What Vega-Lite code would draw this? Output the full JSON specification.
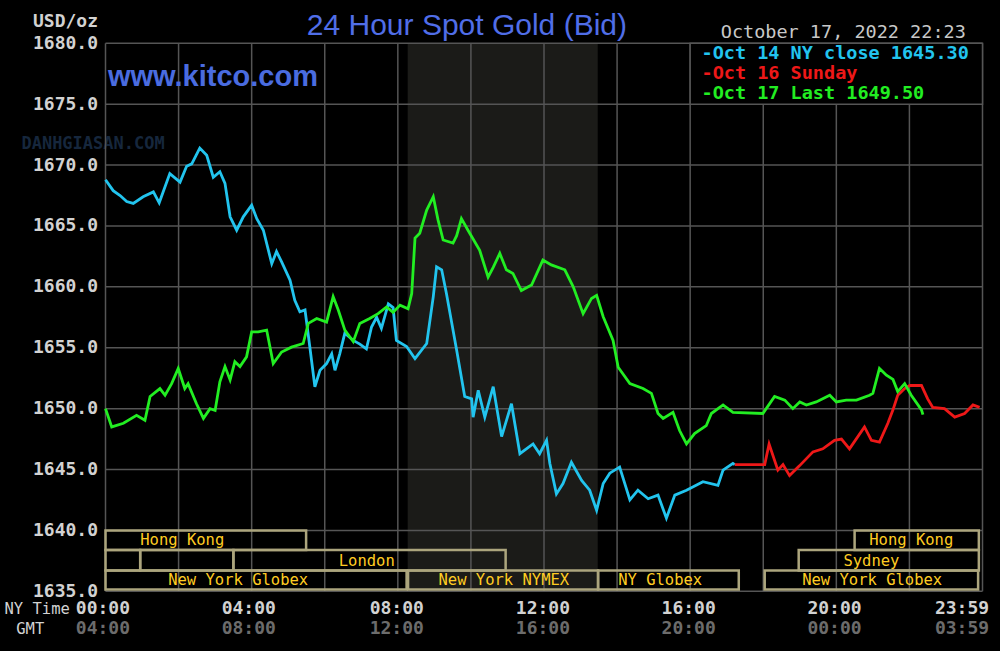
{
  "$schema": "https://vega.github.io/schema/vega-lite/v6.json",
  "width": 877,
  "height": 548,
  "autosize": {"type": "none"},
  "padding": {"left": 105.5, "top": 43.3, "right": 17.5, "bottom": 59.7},
  "background": "#000000",
  "config": {"view": {"stroke": null}},
  "datasets": {
    "prices": [
      {"s":"Oct 14","h":0,"p":1668.8},{"s":"Oct 14","h":0.21,"p":1667.9},{"s":"Oct 14","h":0.4,"p":1667.5},{"s":"Oct 14","h":0.58,"p":1667.0},{"s":"Oct 14","h":0.76,"p":1666.85},{"s":"Oct 14","h":1.03,"p":1667.4},{"s":"Oct 14","h":1.31,"p":1667.8},{"s":"Oct 14","h":1.47,"p":1666.9},{"s":"Oct 14","h":1.76,"p":1669.3},{"s":"Oct 14","h":2.04,"p":1668.6},{"s":"Oct 14","h":2.22,"p":1669.9},{"s":"Oct 14","h":2.36,"p":1670.1},{"s":"Oct 14","h":2.58,"p":1671.4},{"s":"Oct 14","h":2.77,"p":1670.8},{"s":"Oct 14","h":2.95,"p":1669.0},{"s":"Oct 14","h":3.13,"p":1669.45},{"s":"Oct 14","h":3.27,"p":1668.5},{"s":"Oct 14","h":3.41,"p":1665.75},{"s":"Oct 14","h":3.59,"p":1664.65},{"s":"Oct 14","h":3.77,"p":1665.75},{"s":"Oct 14","h":4.0,"p":1666.7},{"s":"Oct 14","h":4.14,"p":1665.6},{"s":"Oct 14","h":4.32,"p":1664.65},{"s":"Oct 14","h":4.55,"p":1661.9},{"s":"Oct 14","h":4.68,"p":1662.9},{"s":"Oct 14","h":4.82,"p":1662.05},{"s":"Oct 14","h":5.05,"p":1660.55},{"s":"Oct 14","h":5.18,"p":1658.9},{"s":"Oct 14","h":5.32,"p":1657.95},{"s":"Oct 14","h":5.46,"p":1658.1},{"s":"Oct 14","h":5.59,"p":1655.1},{"s":"Oct 14","h":5.73,"p":1651.8},{"s":"Oct 14","h":5.87,"p":1653.15},{"s":"Oct 14","h":6.05,"p":1653.7},{"s":"Oct 14","h":6.19,"p":1654.5},{"s":"Oct 14","h":6.28,"p":1653.15},{"s":"Oct 14","h":6.41,"p":1654.5},{"s":"Oct 14","h":6.55,"p":1656.2},{"s":"Oct 14","h":6.78,"p":1655.6},{"s":"Oct 14","h":6.96,"p":1655.3},{"s":"Oct 14","h":7.14,"p":1654.9},{"s":"Oct 14","h":7.28,"p":1656.7},{"s":"Oct 14","h":7.42,"p":1657.5},{"s":"Oct 14","h":7.55,"p":1656.6},{"s":"Oct 14","h":7.74,"p":1658.6},{"s":"Oct 14","h":7.87,"p":1658.3},{"s":"Oct 14","h":7.96,"p":1655.6},{"s":"Oct 14","h":8.24,"p":1655.1},{"s":"Oct 14","h":8.47,"p":1654.1},{"s":"Oct 14","h":8.79,"p":1655.35},{"s":"Oct 14","h":8.97,"p":1659.2},{"s":"Oct 14","h":9.06,"p":1661.65},{"s":"Oct 14","h":9.2,"p":1661.4},{"s":"Oct 14","h":9.33,"p":1659.45},{"s":"Oct 14","h":9.61,"p":1654.8},{"s":"Oct 14","h":9.83,"p":1651.0},{"s":"Oct 14","h":10.02,"p":1650.8},{"s":"Oct 14","h":10.06,"p":1649.3},{"s":"Oct 14","h":10.2,"p":1651.5},{"s":"Oct 14","h":10.38,"p":1649.3},{"s":"Oct 14","h":10.61,"p":1651.8},{"s":"Oct 14","h":10.84,"p":1647.7},{"s":"Oct 14","h":11.11,"p":1650.4},{"s":"Oct 14","h":11.34,"p":1646.3},{"s":"Oct 14","h":11.7,"p":1647.1},{"s":"Oct 14","h":11.88,"p":1646.3},{"s":"Oct 14","h":12.07,"p":1647.4},{"s":"Oct 14","h":12.16,"p":1645.5},{"s":"Oct 14","h":12.34,"p":1643.0},{"s":"Oct 14","h":12.52,"p":1643.85},{"s":"Oct 14","h":12.75,"p":1645.6},{"s":"Oct 14","h":13.03,"p":1644.1},{"s":"Oct 14","h":13.25,"p":1643.3},{"s":"Oct 14","h":13.44,"p":1641.65},{"s":"Oct 14","h":13.62,"p":1643.85},{"s":"Oct 14","h":13.8,"p":1644.7},{"s":"Oct 14","h":14.07,"p":1645.2},{"s":"Oct 14","h":14.35,"p":1642.5},{"s":"Oct 14","h":14.57,"p":1643.3},{"s":"Oct 14","h":14.85,"p":1642.6},{"s":"Oct 14","h":15.12,"p":1642.9},{"s":"Oct 14","h":15.35,"p":1641.0},{"s":"Oct 14","h":15.58,"p":1642.9},{"s":"Oct 14","h":15.9,"p":1643.3},{"s":"Oct 14","h":16.35,"p":1644.0},{"s":"Oct 14","h":16.76,"p":1643.7},{"s":"Oct 14","h":16.9,"p":1644.95},{"s":"Oct 14","h":17.17,"p":1645.5},{"s":"Oct 14","h":17.22,"p":1645.4},
      {"s":"Oct 16","h":17.22,"p":1645.4},{"s":"Oct 16","h":18.04,"p":1645.4},{"s":"Oct 16","h":18.16,"p":1647.1},{"s":"Oct 16","h":18.4,"p":1644.95},{"s":"Oct 16","h":18.54,"p":1645.4},{"s":"Oct 16","h":18.72,"p":1644.5},{"s":"Oct 16","h":18.99,"p":1645.3},{"s":"Oct 16","h":19.36,"p":1646.45},{"s":"Oct 16","h":19.63,"p":1646.7},{"s":"Oct 16","h":19.95,"p":1647.4},{"s":"Oct 16","h":20.14,"p":1647.5},{"s":"Oct 16","h":20.36,"p":1646.7},{"s":"Oct 16","h":20.77,"p":1648.5},{"s":"Oct 16","h":20.96,"p":1647.4},{"s":"Oct 16","h":21.18,"p":1647.25},{"s":"Oct 16","h":21.41,"p":1648.8},{"s":"Oct 16","h":21.55,"p":1649.9},{"s":"Oct 16","h":21.68,"p":1651.1},{"s":"Oct 16","h":21.87,"p":1651.65},{"s":"Oct 16","h":22.01,"p":1651.9},{"s":"Oct 16","h":22.33,"p":1651.9},{"s":"Oct 16","h":22.5,"p":1650.8},{"s":"Oct 16","h":22.64,"p":1650.1},{"s":"Oct 16","h":22.96,"p":1650.0},{"s":"Oct 16","h":23.24,"p":1649.3},{"s":"Oct 16","h":23.51,"p":1649.6},{"s":"Oct 16","h":23.74,"p":1650.3},{"s":"Oct 16","h":23.92,"p":1650.1},
      {"s":"Oct 17","h":0,"p":1650.0},{"s":"Oct 17","h":0.17,"p":1648.5},{"s":"Oct 17","h":0.49,"p":1648.8},{"s":"Oct 17","h":0.85,"p":1649.45},{"s":"Oct 17","h":1.08,"p":1649.05},{"s":"Oct 17","h":1.22,"p":1651.0},{"s":"Oct 17","h":1.49,"p":1651.65},{"s":"Oct 17","h":1.63,"p":1651.1},{"s":"Oct 17","h":1.81,"p":1652.05},{"s":"Oct 17","h":1.99,"p":1653.3},{"s":"Oct 17","h":2.17,"p":1651.65},{"s":"Oct 17","h":2.26,"p":1652.05},{"s":"Oct 17","h":2.49,"p":1650.4},{"s":"Oct 17","h":2.68,"p":1649.2},{"s":"Oct 17","h":2.86,"p":1650.0},{"s":"Oct 17","h":3.0,"p":1649.85},{"s":"Oct 17","h":3.13,"p":1652.2},{"s":"Oct 17","h":3.27,"p":1653.45},{"s":"Oct 17","h":3.41,"p":1652.35},{"s":"Oct 17","h":3.54,"p":1653.85},{"s":"Oct 17","h":3.68,"p":1653.45},{"s":"Oct 17","h":3.86,"p":1654.25},{"s":"Oct 17","h":4.0,"p":1656.3},{"s":"Oct 17","h":4.18,"p":1656.3},{"s":"Oct 17","h":4.41,"p":1656.45},{"s":"Oct 17","h":4.59,"p":1653.7},{"s":"Oct 17","h":4.82,"p":1654.65},{"s":"Oct 17","h":5.09,"p":1655.05},{"s":"Oct 17","h":5.41,"p":1655.35},{"s":"Oct 17","h":5.55,"p":1657.0},{"s":"Oct 17","h":5.78,"p":1657.4},{"s":"Oct 17","h":6.05,"p":1657.1},{"s":"Oct 17","h":6.23,"p":1659.2},{"s":"Oct 17","h":6.37,"p":1658.1},{"s":"Oct 17","h":6.55,"p":1656.45},{"s":"Oct 17","h":6.78,"p":1655.5},{"s":"Oct 17","h":6.96,"p":1657.0},{"s":"Oct 17","h":7.23,"p":1657.4},{"s":"Oct 17","h":7.46,"p":1657.8},{"s":"Oct 17","h":7.69,"p":1658.35},{"s":"Oct 17","h":7.87,"p":1657.9},{"s":"Oct 17","h":8.06,"p":1658.5},{"s":"Oct 17","h":8.28,"p":1658.2},{"s":"Oct 17","h":8.38,"p":1659.45},{"s":"Oct 17","h":8.47,"p":1664.0},{"s":"Oct 17","h":8.6,"p":1664.4},{"s":"Oct 17","h":8.79,"p":1666.3},{"s":"Oct 17","h":8.97,"p":1667.4},{"s":"Oct 17","h":9.1,"p":1665.5},{"s":"Oct 17","h":9.24,"p":1663.85},{"s":"Oct 17","h":9.51,"p":1663.6},{"s":"Oct 17","h":9.61,"p":1664.2},{"s":"Oct 17","h":9.74,"p":1665.6},{"s":"Oct 17","h":9.92,"p":1664.65},{"s":"Oct 17","h":10.24,"p":1663.0},{"s":"Oct 17","h":10.47,"p":1660.8},{"s":"Oct 17","h":10.61,"p":1661.6},{"s":"Oct 17","h":10.79,"p":1662.75},{"s":"Oct 17","h":10.97,"p":1661.4},{"s":"Oct 17","h":11.15,"p":1661.1},{"s":"Oct 17","h":11.38,"p":1659.7},{"s":"Oct 17","h":11.66,"p":1660.15},{"s":"Oct 17","h":11.97,"p":1662.2},{"s":"Oct 17","h":12.2,"p":1661.8},{"s":"Oct 17","h":12.57,"p":1661.4},{"s":"Oct 17","h":12.8,"p":1660.0},{"s":"Oct 17","h":13.07,"p":1657.8},{"s":"Oct 17","h":13.3,"p":1659.05},{"s":"Oct 17","h":13.44,"p":1659.3},{"s":"Oct 17","h":13.62,"p":1657.55},{"s":"Oct 17","h":13.89,"p":1655.6},{"s":"Oct 17","h":14.03,"p":1653.4},{"s":"Oct 17","h":14.35,"p":1652.05},{"s":"Oct 17","h":14.71,"p":1651.65},{"s":"Oct 17","h":14.94,"p":1651.25},{"s":"Oct 17","h":15.12,"p":1649.6},{"s":"Oct 17","h":15.26,"p":1649.2},{"s":"Oct 17","h":15.53,"p":1649.7},{"s":"Oct 17","h":15.71,"p":1648.2},{"s":"Oct 17","h":15.9,"p":1647.1},{"s":"Oct 17","h":16.12,"p":1647.95},{"s":"Oct 17","h":16.44,"p":1648.6},{"s":"Oct 17","h":16.58,"p":1649.6},{"s":"Oct 17","h":16.9,"p":1650.3},{"s":"Oct 17","h":17.17,"p":1649.7},{"s":"Oct 17","h":17.99,"p":1649.6},{"s":"Oct 17","h":18.31,"p":1651.0},{"s":"Oct 17","h":18.59,"p":1650.7},{"s":"Oct 17","h":18.81,"p":1650.0},{"s":"Oct 17","h":19.0,"p":1650.55},{"s":"Oct 17","h":19.18,"p":1650.3},{"s":"Oct 17","h":19.45,"p":1650.55},{"s":"Oct 17","h":19.82,"p":1651.1},{"s":"Oct 17","h":20.0,"p":1650.55},{"s":"Oct 17","h":20.27,"p":1650.7},{"s":"Oct 17","h":20.55,"p":1650.7},{"s":"Oct 17","h":20.91,"p":1651.1},{"s":"Oct 17","h":21.0,"p":1651.25},{"s":"Oct 17","h":21.18,"p":1653.3},{"s":"Oct 17","h":21.37,"p":1652.75},{"s":"Oct 17","h":21.55,"p":1652.4},{"s":"Oct 17","h":21.68,"p":1651.4},{"s":"Oct 17","h":21.87,"p":1652.05},{"s":"Oct 17","h":22.05,"p":1651.1},{"s":"Oct 17","h":22.33,"p":1649.9},{"s":"Oct 17","h":22.37,"p":1649.5}
    ],
    "vgrid": [{"h":0},{"h":2},{"h":4},{"h":6},{"h":8},{"h":10},{"h":12},{"h":14},{"h":16},{"h":18},{"h":20},{"h":22},{"h":24}],
    "hgrid": [{"p":1635},{"p":1640},{"p":1645},{"p":1650},{"p":1655},{"p":1660},{"p":1665},{"p":1670},{"p":1675},{"p":1680}],
    "sessions": [
      {"lo":1638.4,"hi":1640,"start":0,"end":5.49,"label":"Hong Kong","pos":2.1},
      {"lo":1638.4,"hi":1640,"start":20.5,"end":23.9,"label":"Hong Kong","pos":22.05},
      {"lo":1636.7,"hi":1638.4,"start":0,"end":0.95,"label":"","pos":0.5},
      {"lo":1636.7,"hi":1638.4,"start":0.95,"end":3.5,"label":"","pos":2.2},
      {"lo":1636.7,"hi":1638.4,"start":3.5,"end":10.95,"label":"London","pos":7.15},
      {"lo":1636.7,"hi":1638.4,"start":18.97,"end":23.9,"label":"Sydney","pos":20.96},
      {"lo":1635.15,"hi":1636.7,"start":0,"end":8.24,"label":"New York Globex","pos":3.63},
      {"lo":1635.15,"hi":1636.7,"start":8.28,"end":13.48,"label":"New York NYMEX","pos":10.9},
      {"lo":1635.15,"hi":1636.7,"start":13.48,"end":17.33,"label":"NY Globex","pos":15.18},
      {"lo":1635.15,"hi":1636.7,"start":18.04,"end":23.88,"label":"New York Globex","pos":20.98}
    ],
    "legendrows": [
      {"s":"Oct 14","t":"-Oct 14 NY close 1645.30","p":1679.18},
      {"s":"Oct 16","t":"-Oct 16 Sunday","p":1677.54},
      {"s":"Oct 17","t":"-Oct 17 Last 1649.50","p":1675.94}
    ],
    "xlabels": [
      {"h":-0.07,"ny":"00:00","gmt":"04:00"},
      {"h":3.92,"ny":"04:00","gmt":"08:00"},
      {"h":7.97,"ny":"08:00","gmt":"12:00"},
      {"h":11.97,"ny":"12:00","gmt":"16:00"},
      {"h":15.96,"ny":"16:00","gmt":"20:00"},
      {"h":19.95,"ny":"20:00","gmt":"00:00"},
      {"h":23.44,"ny":"23:59","gmt":"03:59"}
    ]
  },
  "layer": [
    {
      "data": {"values": [{"start": 8.27, "end": 13.47, "lo": 1635, "hi": 1680}]},
      "mark": {"type": "rect", "fill": "#1b1b18"},
      "encoding": {
        "x": {"field": "start", "type": "quantitative", "scale": {"domain": [0, 24], "nice": false}, "axis": null},
        "x2": {"field": "end"},
        "y": {"field": "lo", "type": "quantitative", "scale": {"domain": [1635, 1680], "nice": false, "zero": false},
          "axis": {"orient": "left", "values": [1635,1640,1645,1650,1655,1660,1665,1670,1675,1680], "format": ".1f", "grid": false, "domain": false, "ticks": false,
            "labelPadding": 8, "labelFont": "DejaVu Sans Mono", "labelFontWeight": "bold", "labelFontSize": 18, "labelColor": "#d2d2d2",
            "labelFlush": false, "labelOverlap": false, "labelBaseline": "middle",
            "title": "USD/oz", "titleAngle": 0, "titleAlign": "right", "titleBaseline": "middle", "titleX": -8, "titleY": -22,
            "titleFont": "DejaVu Sans Mono", "titleFontWeight": "bold", "titleFontSize": 18, "titleColor": "#d2d2d2"}},
        "y2": {"field": "hi"}
      }
    },
    {
      "data": {"values": [{"t": "DANHGIASAN.COM", "h": -0.34, "p": 1671.7}]},
      "mark": {"type": "text", "font": "DejaVu Sans Mono", "fontWeight": "bold", "fontSize": 17, "color": "#16273d", "align": "center", "baseline": "middle"},
      "encoding": {
        "x": {"field": "h", "type": "quantitative", "scale": {"domain": [0, 24], "nice": false}},
        "y": {"field": "p", "type": "quantitative", "scale": {"domain": [1635, 1680], "nice": false, "zero": false}},
        "text": {"field": "t"}
      }
    },
    {
      "data": {"name": "vgrid"},
      "mark": {"type": "rule", "color": "#555555", "strokeWidth": 1.5},
      "encoding": {"x": {"field": "h", "type": "quantitative", "scale": {"domain": [0, 24], "nice": false}}}
    },
    {
      "data": {"name": "hgrid"},
      "mark": {"type": "rule", "color": "#555555", "strokeWidth": 1.5},
      "encoding": {"y": {"field": "p", "type": "quantitative", "scale": {"domain": [1635, 1680], "nice": false, "zero": false}}}
    },
    {
      "data": {"name": "sessions"},
      "mark": {"type": "rect", "fillOpacity": 0, "fill": "#000000", "stroke": "#aca57d", "strokeWidth": 2.5},
      "encoding": {
        "x": {"field": "start", "type": "quantitative", "scale": {"domain": [0, 24], "nice": false}},
        "x2": {"field": "end"},
        "y": {"field": "lo", "type": "quantitative", "scale": {"domain": [1635, 1680], "nice": false, "zero": false}},
        "y2": {"field": "hi"}
      }
    },
    {
      "data": {"name": "sessions"},
      "mark": {"type": "text", "font": "DejaVu Sans Mono", "fontSize": 15.5, "color": "#ffcc22", "align": "center", "baseline": "middle", "dy": -9.5},
      "encoding": {
        "x": {"field": "pos", "type": "quantitative", "scale": {"domain": [0, 24], "nice": false}},
        "y": {"field": "lo", "type": "quantitative", "scale": {"domain": [1635, 1680], "nice": false, "zero": false}},
        "text": {"field": "label"}
      }
    },
    {
      "data": {"values": [{"start": 16, "end": 24, "lo": 1675, "hi": 1680}]},
      "mark": {"type": "rect", "fill": "#000000", "stroke": "#555555", "strokeWidth": 1.5},
      "encoding": {
        "x": {"field": "start", "type": "quantitative", "scale": {"domain": [0, 24], "nice": false}},
        "x2": {"field": "end"},
        "y": {"field": "lo", "type": "quantitative", "scale": {"domain": [1635, 1680], "nice": false, "zero": false}},
        "y2": {"field": "hi"}
      }
    },
    {
      "data": {"name": "legendrows"},
      "mark": {"type": "text", "font": "DejaVu Sans Mono", "fontWeight": "bold", "fontSize": 18.5, "align": "left", "baseline": "middle"},
      "encoding": {
        "x": {"datum": 16.31, "type": "quantitative", "scale": {"domain": [0, 24], "nice": false}},
        "y": {"field": "p", "type": "quantitative", "scale": {"domain": [1635, 1680], "nice": false, "zero": false}},
        "text": {"field": "t"},
        "color": {"field": "s", "type": "nominal", "scale": {"domain": ["Oct 14", "Oct 16", "Oct 17"], "range": ["#22c4ee", "#ee1818", "#22ee22"]}, "legend": null}
      }
    },
    {
      "data": {"name": "prices"},
      "mark": {"type": "line", "strokeWidth": 2.8},
      "encoding": {
        "x": {"field": "h", "type": "quantitative", "scale": {"domain": [0, 24], "nice": false}},
        "y": {"field": "p", "type": "quantitative", "scale": {"domain": [1635, 1680], "nice": false, "zero": false}},
        "color": {"field": "s", "type": "nominal", "scale": {"domain": ["Oct 14", "Oct 16", "Oct 17"], "range": ["#22c4ee", "#ee1818", "#22ee22"]}, "legend": null}
      }
    },
    {
      "data": {"name": "xlabels"},
      "mark": {"type": "text", "font": "DejaVu Sans Mono", "fontWeight": "bold", "fontSize": 18, "color": "#d2d2d2", "align": "center", "baseline": "middle"},
      "encoding": {
        "x": {"field": "h", "type": "quantitative", "scale": {"domain": [0, 24], "nice": false}},
        "y": {"datum": 1633.55, "type": "quantitative", "scale": {"domain": [1635, 1680], "nice": false, "zero": false}},
        "text": {"field": "ny"}
      }
    },
    {
      "data": {"name": "xlabels"},
      "mark": {"type": "text", "font": "DejaVu Sans Mono", "fontWeight": "bold", "fontSize": 18, "color": "#6c6c6c", "align": "center", "baseline": "middle"},
      "encoding": {
        "x": {"field": "h", "type": "quantitative", "scale": {"domain": [0, 24], "nice": false}},
        "y": {"datum": 1631.9, "type": "quantitative", "scale": {"domain": [1635, 1680], "nice": false, "zero": false}},
        "text": {"field": "gmt"}
      }
    },
    {
      "data": {"values": [{"t": "NY Time", "h": -1.87, "p": 1633.55}, {"t": "GMT", "h": -2.06, "p": 1631.9}]},
      "mark": {"type": "text", "font": "DejaVu Sans Mono", "fontSize": 15.5, "color": "#d2d2d2", "align": "center", "baseline": "middle"},
      "encoding": {
        "x": {"field": "h", "type": "quantitative", "scale": {"domain": [0, 24], "nice": false}},
        "y": {"field": "p", "type": "quantitative", "scale": {"domain": [1635, 1680], "nice": false, "zero": false}},
        "text": {"field": "t"}
      }
    },
    {
      "data": {"values": [{"t": "24 Hour Spot Gold (Bid)", "h": 9.89, "p": 1681.45}]},
      "mark": {"type": "text", "font": "Liberation Sans", "fontSize": 30, "color": "#506ee8", "align": "center", "baseline": "middle"},
      "encoding": {
        "x": {"field": "h", "type": "quantitative", "scale": {"domain": [0, 24], "nice": false}},
        "y": {"field": "p", "type": "quantitative", "scale": {"domain": [1635, 1680], "nice": false, "zero": false}},
        "text": {"field": "t"}
      }
    },
    {
      "data": {"values": [{"t": "www.kitco.com", "h": 2.94, "p": 1677.23}]},
      "mark": {"type": "text", "font": "Liberation Sans", "fontWeight": "bold", "fontSize": 29, "color": "#4a6ce0", "align": "center", "baseline": "middle"},
      "encoding": {
        "x": {"field": "h", "type": "quantitative", "scale": {"domain": [0, 24], "nice": false}},
        "y": {"field": "p", "type": "quantitative", "scale": {"domain": [1635, 1680], "nice": false, "zero": false}},
        "text": {"field": "t"}
      }
    },
    {
      "data": {"values": [{"t": "October 17, 2022 22:23", "h": 20.19, "p": 1680.9}]},
      "mark": {"type": "text", "font": "DejaVu Sans Mono", "fontSize": 18.5, "color": "#c8c8c8", "align": "center", "baseline": "middle"},
      "encoding": {
        "x": {"field": "h", "type": "quantitative", "scale": {"domain": [0, 24], "nice": false}},
        "y": {"field": "p", "type": "quantitative", "scale": {"domain": [1635, 1680], "nice": false, "zero": false}},
        "text": {"field": "t"}
      }
    }
  ]
}
